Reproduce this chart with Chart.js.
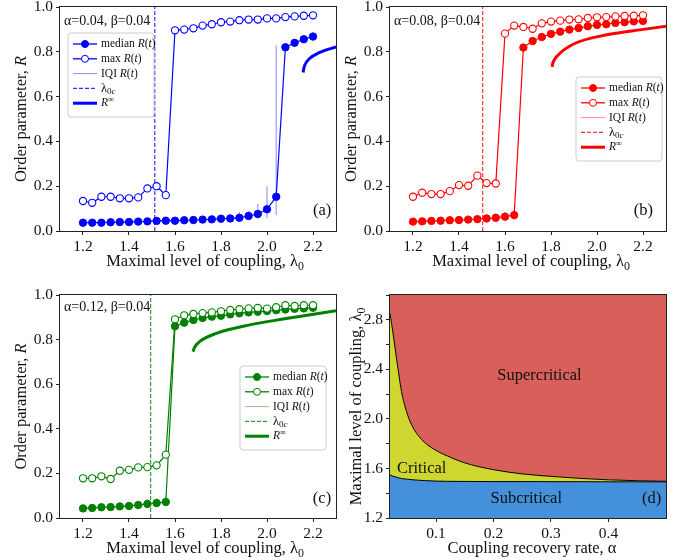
<!DOCTYPE html>
<html>
<head>
<meta charset="utf-8">
<script src="https://cdn.jsdelivr.net/npm/chart.js@4.4.1/dist/chart.umd.min.js"></script>
<style>
  html, body { margin: 0; padding: 0; background: #fff; }
  #page { position: relative; width: 682px; height: 560px; overflow: hidden; }
  #page canvas { position: absolute; }
</style>
</head>
<body>
<div id="page"></div>
<script>
// Sweep of the maximal coupling level used in panels (a)-(c).
var lambda0 = [1.20, 1.24, 1.28, 1.32, 1.36, 1.40, 1.44, 1.48, 1.52, 1.56, 1.60, 1.64, 1.68,
               1.72, 1.76, 1.80, 1.84, 1.88, 1.92, 1.96, 2.00, 2.04, 2.08, 2.12, 2.16, 2.20];
var lambdaTicks = [1.2, 1.4, 1.6, 1.8, 2.0, 2.2];
var orderTicks = [0.0, 0.2, 0.4, 0.6, 0.8, 1.0];

// (a) alpha=0.04
var medianA = [0.037, 0.037, 0.037, 0.039, 0.040, 0.040, 0.042, 0.043, 0.045, 0.046, 0.046, 0.048, 0.049,
               0.051, 0.052, 0.055, 0.056, 0.059, 0.067, 0.076, 0.097, 0.153, 0.820, 0.840, 0.856, 0.868];
var maxA = [0.134, 0.126, 0.153, 0.153, 0.146, 0.146, 0.150, 0.190, 0.200, 0.160, 0.896, 0.899, 0.905,
            0.917, 0.923, 0.932, 0.935, 0.941, 0.944, 0.944, 0.949, 0.949, 0.955, 0.958, 0.961, 0.963];
var iqiLoA = [0.033, 0.033, 0.033, 0.034, 0.035, 0.035, 0.036, 0.037, 0.038, 0.039, 0.039, 0.040, 0.041,
              0.042, 0.043, 0.045, 0.047, 0.050, 0.052, 0.056, 0.058, 0.071, 0.815, 0.835, 0.851, 0.864];
var iqiHiA = [0.041, 0.041, 0.041, 0.043, 0.045, 0.045, 0.048, 0.050, 0.052, 0.054, 0.055, 0.058, 0.060,
              0.062, 0.064, 0.070, 0.075, 0.085, 0.090, 0.120, 0.200, 0.829, 0.826, 0.845, 0.861, 0.872];
var lambdaCA = 1.512;
var rInfXA = [2.157, 2.160, 2.164, 2.185, 2.229, 2.300];
var rInfYA = [0.708, 0.725, 0.740, 0.770, 0.797, 0.822];

// (b) alpha=0.08
var medianB = [0.042, 0.043, 0.045, 0.046, 0.048, 0.049, 0.051, 0.053, 0.056, 0.059, 0.064, 0.071, 0.819,
               0.848, 0.866, 0.880, 0.890, 0.899, 0.906, 0.914, 0.920, 0.923, 0.929, 0.932, 0.936, 0.938];
var maxB = [0.153, 0.171, 0.165, 0.165, 0.178, 0.205, 0.202, 0.247, 0.214, 0.212, 0.881, 0.917, 0.911,
            0.903, 0.927, 0.935, 0.939, 0.944, 0.945, 0.951, 0.954, 0.955, 0.958, 0.960, 0.961, 0.963];
var iqiLoB = [0.038, 0.039, 0.040, 0.041, 0.042, 0.043, 0.044, 0.045, 0.046, 0.047, 0.048, 0.050, 0.812,
              0.843, 0.862, 0.876, 0.887, 0.896, 0.903, 0.911, 0.917, 0.920, 0.926, 0.929, 0.933, 0.935];
var iqiHiB = [0.046, 0.048, 0.050, 0.052, 0.054, 0.056, 0.058, 0.065, 0.075, 0.080, 0.085, 0.101, 0.826,
              0.853, 0.870, 0.884, 0.893, 0.902, 0.909, 0.917, 0.923, 0.926, 0.932, 0.935, 0.939, 0.941];
var lambdaCB = 1.503;
var rInfXB = [1.804, 1.810, 1.830, 1.903, 2.049, 2.194, 2.300];
var rInfYB = [0.733, 0.755, 0.785, 0.837, 0.877, 0.899, 0.914];

// (c) alpha=0.12
var medianC = [0.043, 0.045, 0.048, 0.049, 0.052, 0.054, 0.058, 0.063, 0.067, 0.072, 0.860, 0.876, 0.888,
               0.897, 0.903, 0.907, 0.913, 0.918, 0.922, 0.925, 0.928, 0.932, 0.935, 0.938, 0.940, 0.943];
var maxC = [0.178, 0.178, 0.187, 0.175, 0.212, 0.216, 0.227, 0.228, 0.236, 0.284, 0.891, 0.909, 0.915,
            0.919, 0.922, 0.927, 0.933, 0.936, 0.940, 0.942, 0.939, 0.945, 0.954, 0.951, 0.954, 0.954];
var iqiLoC = [0.039, 0.040, 0.042, 0.043, 0.045, 0.046, 0.047, 0.048, 0.050, 0.052, 0.852, 0.870, 0.883,
              0.893, 0.899, 0.904, 0.910, 0.915, 0.919, 0.922, 0.925, 0.929, 0.932, 0.935, 0.937, 0.940];
var iqiHiC = [0.048, 0.050, 0.054, 0.056, 0.060, 0.064, 0.075, 0.085, 0.090, 0.097, 0.868, 0.882, 0.893,
              0.901, 0.907, 0.911, 0.916, 0.921, 0.925, 0.928, 0.931, 0.935, 0.938, 0.941, 0.943, 0.946];
var lambdaCC = 1.494;
var rInfXC = [1.678, 1.685, 1.707, 1.780, 1.925, 2.070, 2.300];
var rInfYC = [0.746, 0.765, 0.791, 0.828, 0.866, 0.892, 0.929];

// (d) phase diagram: boundaries in the (alpha, lambda0) plane
var alphaGrid = [0.02, 0.025, 0.03, 0.035, 0.04, 0.05, 0.06, 0.07, 0.08, 0.10,
                 0.12, 0.15, 0.20, 0.25, 0.30, 0.35, 0.40, 0.45, 0.50];
var superBound = [2.85, 2.70, 2.53, 2.37, 2.22, 2.04, 1.93, 1.86, 1.81, 1.745,
                  1.70, 1.645, 1.59, 1.556, 1.536, 1.52, 1.508, 1.501, 1.496];
var subBound = [1.548, 1.538, 1.531, 1.524, 1.519, 1.513, 1.508, 1.505, 1.502, 1.498,
                1.496, 1.495, 1.494, 1.494, 1.493, 1.493, 1.492, 1.492, 1.492];
var alphaTicks = [0.1, 0.2, 0.3, 0.4];
var phaseTicks = [1.2, 1.4, 1.6, 1.8, 2.0, 2.2, 2.4, 2.6, 2.8, 3.0];

var SERIF = "'Liberation Serif', 'DejaVu Serif', serif";
var INK = '#111111';
var PAD_L = 70, PAD_T = 20, PAD_R = 20, PAD_B = 60;
var TICK_SIZE = 15.5, TITLE_SIZE = 16.5;

Chart.defaults.font.family = SERIF;
Chart.defaults.font.size = TICK_SIZE;
Chart.defaults.color = INK;


function pts(xs, ys) {
  return xs.map(function(x, i) { return {x: x, y: ys[i]}; });
}


function iqiSegments(xs, lo, hi) {
  var out = [];
  for (var i = 0; i < xs.length; i++) {
    out.push({x: xs[i], y: lo[i]}, {x: xs[i], y: hi[i]}, {x: xs[i], y: null});
  }
  return out;
}


function fade(hex, a) {
  var n = parseInt(hex.slice(1), 16);
  return 'rgba(' + (n >> 16) + ',' + ((n >> 8) & 255) + ',' + (n & 255) + ',' + a + ')';
}


// Text made of runs: flags 'i' italic, 's' subscript, 'u' superscript.
function runFont(run, size) {
  var f = run[1] || '';
  var small = f.indexOf('s') >= 0 || f.indexOf('u') >= 0;
  return (f.indexOf('i') >= 0 ? 'italic ' : '') + (small ? size * 0.72 : size) + 'px ' + SERIF;
}


function drawRich(ctx, runs, x, y, size, align) {
  var widths = [], total = 0;
  runs.forEach(function(r) {
    ctx.font = runFont(r, size);
    var w = ctx.measureText(r[0]).width;
    widths.push(w);
    total += w;
  });
  var cx = align === 'center' ? x - total / 2 : (align === 'right' ? x - total : x);
  ctx.textAlign = 'left';
  ctx.textBaseline = 'middle';
  runs.forEach(function(r, i) {
    var f = r[1] || '';
    var dy = f.indexOf('s') >= 0 ? size * 0.28 : (f.indexOf('u') >= 0 ? -size * 0.32 : 0);
    ctx.font = runFont(r, size);
    ctx.fillText(r[0], cx, y + dy);
    cx += widths[i];
  });
}


var LEGEND_TEXT = [
  [['median '], ['R', 'i'], ['('], ['t', 'i'], [')']],
  [['max '], ['R', 'i'], ['('], ['t', 'i'], [')']],
  [['IQI '], ['R', 'i'], ['('], ['t', 'i'], [')']],
  [['λ'], ['0', 's'], ['c', 'is']],
  [['R', 'i'], ['∞', 'u']],
];
var LEGEND_W = 86, LEGEND_H = 84;


function drawLegend(ctx, x, y, color) {
  var w = LEGEND_W, h = LEGEND_H, r = 3;
  ctx.save();
  ctx.beginPath();
  ctx.moveTo(x + r, y);
  ctx.arcTo(x + w, y, x + w, y + h, r);
  ctx.arcTo(x + w, y + h, x, y + h, r);
  ctx.arcTo(x, y + h, x, y, r);
  ctx.arcTo(x, y, x + w, y, r);
  ctx.closePath();
  ctx.fillStyle = 'rgba(255,255,255,0.85)';
  ctx.fill();
  ctx.strokeStyle = '#cccccc';
  ctx.lineWidth = 1;
  ctx.stroke();

  for (var i = 0; i < LEGEND_TEXT.length; i++) {
    var cy = y + 11 + i * 14.8;
    var x0 = x + 5, x1 = x + 29, xm = (x0 + x1) / 2;
    ctx.setLineDash(i === 3 ? [4, 2] : []);
    ctx.strokeStyle = i === 2 ? fade(color, 0.45) : (i === 3 ? fade(color, 0.8) : color);
    ctx.lineWidth = i === 4 ? 3 : (i === 2 ? 1 : 1.3);
    ctx.beginPath();
    ctx.moveTo(x0, cy);
    ctx.lineTo(x1, cy);
    ctx.stroke();
    ctx.setLineDash([]);
    if (i < 2) {
      ctx.beginPath();
      ctx.arc(xm, cy, 3.5, 0, Math.PI * 2);
      ctx.fillStyle = i === 0 ? color : '#ffffff';
      ctx.fill();
      ctx.lineWidth = 1;
      ctx.strokeStyle = color;
      ctx.stroke();
    }
    ctx.fillStyle = INK;
    drawRich(ctx, LEGEND_TEXT[i], x + 33, cy, i === 3 ? 12.5 : 11.5, 'left');
  }
  ctx.restore();
}


// Frame, axis titles, annotations and legend on top of each panel.
var decorPlugin = {
  id: 'decor',
  afterDraw: function(chart, args, o) {
    var ctx = chart.ctx, a = chart.chartArea;
    var sx = chart.scales.x, sy = chart.scales.y;
    ctx.save();
    ctx.strokeStyle = '#222222';
    ctx.lineWidth = 1;
    ctx.strokeRect(a.left - 0.5, a.top - 0.5, a.right - a.left + 1, a.bottom - a.top + 1);

    ctx.fillStyle = INK;
    drawRich(ctx, o.xTitle, (a.left + a.right) / 2 + (o.xTitleDx || 0), a.bottom + 31, TITLE_SIZE, 'center');
    ctx.save();
    ctx.translate(a.left - o.yTitleGap, (a.top + a.bottom) / 2);
    ctx.rotate(-Math.PI / 2);
    drawRich(ctx, o.yTitle, 0, 0, TITLE_SIZE, 'center');
    ctx.restore();

    (o.notes || []).forEach(function(n) {
      ctx.fillStyle = INK;
      drawRich(ctx, n.runs, sx.getPixelForValue(n.x), sy.getPixelForValue(n.y), n.size, n.align);
    });

    if (o.legend) {
      var lx = o.legend.right !== undefined ? a.right - o.legend.right - LEGEND_W : a.left + o.legend.left;
      drawLegend(ctx, lx, a.top + o.legend.top, o.color);
    }
    ctx.restore();
  }
};


function fixedTicks(values) {
  return function(scale) {
    scale.ticks = values.map(function(v) { return {value: v}; });
  };
}


function axis(min, max, values, fit, labelFn) {
  return {
    type: 'linear',
    min: min,
    max: max,
    afterBuildTicks: fixedTicks(values),
    afterFit: fit,
    ticks: {
      autoSkip: false,
      maxRotation: 0,
      padding: 3,
      color: INK,
      font: {size: TICK_SIZE},
      callback: labelFn || function(v) { return v.toFixed(1); },
    },
    grid: {drawOnChartArea: false, tickLength: 4, color: '#222222', lineWidth: 1},
    border: {display: false},
  };
}


function addCanvas(area) {
  var c = document.createElement('canvas');
  var w = area.r - area.l + PAD_L + PAD_R;
  var h = area.b - area.t + PAD_T + PAD_B;
  c.width = w;
  c.height = h;
  c.style.width = w + 'px';
  c.style.height = h + 'px';
  c.style.left = (area.l - PAD_L) + 'px';
  c.style.top = (area.t - PAD_T) + 'px';
  document.getElementById('page').appendChild(c);
  return c;
}


function makeChart(area, datasets, scales, decor) {
  return new Chart(addCanvas(area), {
    type: 'line',
    data: {datasets: datasets},
    plugins: [decorPlugin],
    options: {
      responsive: false,
      animation: false,
      devicePixelRatio: 1,
      layout: {padding: {left: 0, top: PAD_T, right: PAD_R, bottom: 0}},
      scales: scales,
      plugins: {legend: {display: false}, tooltip: {enabled: false}, decor: decor},
    },
  });
}


var fitY = function(s) { s.width = PAD_L; };
var fitX = function(s) { s.height = PAD_B; };
var X_TITLE = [['Maximal level of coupling, λ'], ['0', 's']];


function orderPanel(p) {
  var c = p.color;
  var datasets = [
    {data: pts(lambda0, p.max), borderColor: c, borderWidth: 1.2, pointRadius: 3.6,
     pointBackgroundColor: '#ffffff', pointBorderColor: c, pointBorderWidth: 1.1, order: 0},
    {data: pts(lambda0, p.median), borderColor: c, borderWidth: 1.2, pointRadius: 3.7,
     pointBackgroundColor: c, pointBorderColor: c, pointBorderWidth: 1, order: 1},
    {data: iqiSegments(lambda0, p.lo, p.hi), borderColor: fade(c, 0.4), borderWidth: 1.2,
     pointRadius: 0, spanGaps: false, order: 2},
    {data: pts(p.rx, p.ry), borderColor: c, borderWidth: 3, pointRadius: 0,
     cubicInterpolationMode: 'monotone', order: 3},
    {data: [{x: p.lc, y: 0}, {x: p.lc, y: 1}], borderColor: fade(c, 0.8), borderWidth: 1.2,
     borderDash: [4, 2], pointRadius: 0, order: 4},
  ];
  var decor = {
    color: c,
    xTitle: X_TITLE,
    xTitleDx: p.titleDx,
    yTitle: [['Order parameter, '], ['R', 'i']],
    yTitleGap: 38,
    legend: p.legend,
    notes: [
      {runs: [[p.param]], x: 1.117, y: p.paramY, size: 14, align: 'left'},
      {runs: [[p.tag]], x: p.tagX, y: p.tagY, size: 16.5, align: 'center'},
    ],
  };
  makeChart(p.area, datasets, {
    x: axis(1.1, 2.3, lambdaTicks, fitX),
    y: axis(0, 1.0, orderTicks, fitY),
  }, decor);
}


function phasePanel(area) {
  var datasets = [
    {data: pts(alphaGrid, subBound), borderColor: '#000000', borderWidth: 1, pointRadius: 0,
     fill: 'start', backgroundColor: '#4490da', cubicInterpolationMode: 'monotone'},
    {data: pts(alphaGrid, superBound), borderColor: '#000000', borderWidth: 1, pointRadius: 0,
     fill: '-1', backgroundColor: '#cdd72f', cubicInterpolationMode: 'monotone'},
    {data: pts(alphaGrid, superBound), borderColor: 'rgba(0,0,0,0)', borderWidth: 0, pointRadius: 0,
     fill: 'end', backgroundColor: '#d9605a', cubicInterpolationMode: 'monotone'},
  ];
  var decor = {
    xTitle: [['Coupling recovery rate, α']],
    xTitleDx: 4,
    yTitle: X_TITLE,
    yTitleGap: 33,
    notes: [
      {runs: [['Supercritical']], x: 0.28, y: 2.35, size: 16.5, align: 'center'},
      {runs: [['Critical']], x: 0.075, y: 1.60, size: 16.5, align: 'center'},
      {runs: [['Subcritical']], x: 0.257, y: 1.36, size: 16.5, align: 'center'},
      {runs: [['(d)']], x: 0.475, y: 1.36, size: 16.5, align: 'center'},
    ],
  };
  makeChart(area, datasets, {
    x: axis(0.02, 0.5, alphaTicks, fitX),
    y: axis(1.2, 3.0, phaseTicks, fitY, function(v) {
      return Math.round(v * 10) % 4 === 0 ? v.toFixed(1) : '';
    }),
  }, decor);
}


orderPanel({
  area: {l: 60, t: 7, r: 336, b: 231}, color: '#0000ff',
  median: medianA, max: maxA, lo: iqiLoA, hi: iqiHiA, lc: lambdaCA, rx: rInfXA, ry: rInfYA,
  param: 'α=0.04, β=0.04', paramY: 0.935, tag: '(a)', tagX: 2.24, tagY: 0.09,
  legend: {left: 8, top: 26}, titleDx: 7,
});
orderPanel({
  area: {l: 390, t: 7, r: 666, b: 231}, color: '#ff0000',
  median: medianB, max: maxB, lo: iqiLoB, hi: iqiHiB, lc: lambdaCB, rx: rInfXB, ry: rInfYB,
  param: 'α=0.08, β=0.04', paramY: 0.935, tag: '(b)', tagX: 2.202, tagY: 0.09,
  legend: {right: 4, top: 70}, titleDx: 3,
});
orderPanel({
  area: {l: 60, t: 295, r: 336, b: 518}, color: '#008000',
  median: medianC, max: maxC, lo: iqiLoC, hi: iqiHiC, lc: lambdaCC, rx: rInfXC, ry: rInfYC,
  param: 'α=0.12, β=0.04', paramY: 0.945, tag: '(c)', tagX: 2.239, tagY: 0.087,
  legend: {right: 10, top: 71}, titleDx: 7,
});
phasePanel({l: 390, t: 295, r: 666, b: 518});
</script>
</body>
</html>
